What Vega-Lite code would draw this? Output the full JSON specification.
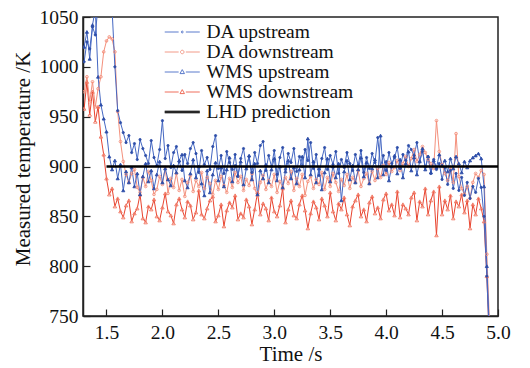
{
"$schema": "https://vega.github.io/schema/vega-lite/v6.json",
"width": 415, "height": 299,
"autosize": {"type": "none"},
"padding": {"left": 83, "top": 17, "right": 32, "bottom": 52},
"background": "white",
"config": {
  "view": {"stroke": "#222", "strokeWidth": 1.5},
  "font": "Liberation Serif",
  "axis": {"grid": false, "domainColor": "#222", "domainWidth": 1.5, "tickColor": "#222", "tickWidth": 1.2,
    "labelFont": "Liberation Serif", "labelFontSize": 19.5, "labelColor": "#111",
    "titleFont": "Liberation Serif", "titleFontSize": 21, "titleFontWeight": "normal", "titleColor": "#111"}
},
"datasets": {"main": [
{"t":1.3,"a":1005,"b":975,"c":1020,"d":958},
{"t":1.325,"a":1025,"b":990,"c":1035,"d":985},
{"t":1.35,"a":1018,"b":965,"c":1008,"d":952},
{"t":1.375,"a":1040,"b":985,"c":1042,"d":975},
{"t":1.4,"a":1032,"b":960,"c":1058,"d":945},
{"t":1.425,"a":1062,"b":978,"c":990,"d":960},
{"t":1.45,"a":1068,"b":990,"c":962,"d":930},
{"t":1.475,"a":1060,"b":1015,"c":948,"d":912},
{"t":1.5,"a":1072,"b":1026,"c":935,"d":888},
{"t":1.525,"a":1064,"b":1030,"c":910,"d":872},
{"t":1.55,"a":1058,"b":1028,"c":897,"d":878},
{"t":1.575,"a":1000,"b":1015,"c":906,"d":860},
{"t":1.6,"a":956,"b":955,"c":888,"d":868},
{"t":1.625,"a":944,"b":925,"c":902,"d":855},
{"t":1.65,"a":934,"b":905,"c":876,"d":849},
{"t":1.675,"a":924,"b":892,"c":895,"d":861},
{"t":1.7,"a":931,"b":884,"c":884,"d":866},
{"t":1.725,"a":914,"b":893,"c":899,"d":845},
{"t":1.75,"a":923,"b":897,"c":880,"d":853},
{"t":1.775,"a":907,"b":879,"c":893,"d":858},
{"t":1.8,"a":927,"b":874,"c":872,"d":872},
{"t":1.825,"a":918,"b":889,"c":890,"d":848},
{"t":1.85,"a":911,"b":880,"c":903,"d":844},
{"t":1.875,"a":903,"b":895,"c":885,"d":860},
{"t":1.9,"a":926,"b":886,"c":896,"d":857},
{"t":1.925,"a":909,"b":872,"c":878,"d":867},
{"t":1.95,"a":901,"b":877,"c":892,"d":850},
{"t":1.975,"a":917,"b":890,"c":905,"d":846},
{"t":2.0,"a":946,"b":882,"c":884,"d":859},
{"t":2.025,"a":908,"b":899,"c":898,"d":873},
{"t":2.05,"a":921,"b":873,"c":887,"d":855},
{"t":2.075,"a":899,"b":888,"c":881,"d":851},
{"t":2.1,"a":914,"b":879,"c":901,"d":843},
{"t":2.125,"a":920,"b":893,"c":894,"d":862},
{"t":2.15,"a":905,"b":876,"c":906,"d":868},
{"t":2.175,"a":896,"b":887,"c":912,"d":857},
{"t":2.2,"a":912,"b":870,"c":886,"d":849},
{"t":2.225,"a":903,"b":884,"c":879,"d":865},
{"t":2.25,"a":918,"b":891,"c":893,"d":861},
{"t":2.275,"a":924,"b":875,"c":907,"d":847},
{"t":2.3,"a":913,"b":886,"c":889,"d":854},
{"t":2.325,"a":894,"b":880,"c":900,"d":876},
{"t":2.35,"a":916,"b":894,"c":883,"d":852},
{"t":2.375,"a":902,"b":878,"c":871,"d":848},
{"t":2.4,"a":909,"b":889,"c":896,"d":858},
{"t":2.425,"a":897,"b":883,"c":874,"d":866},
{"t":2.45,"a":920,"b":872,"c":892,"d":870},
{"t":2.475,"a":931,"b":886,"c":904,"d":845},
{"t":2.5,"a":898,"b":877,"c":886,"d":851},
{"t":2.525,"a":911,"b":890,"c":899,"d":862},
{"t":2.55,"a":893,"b":881,"c":880,"d":840},
{"t":2.575,"a":915,"b":874,"c":897,"d":856},
{"t":2.6,"a":904,"b":888,"c":909,"d":864},
{"t":2.625,"a":897,"b":879,"c":885,"d":859},
{"t":2.65,"a":912,"b":894,"c":901,"d":871},
{"t":2.675,"a":890,"b":884,"c":891,"d":847},
{"t":2.7,"a":908,"b":890,"c":905,"d":853},
{"t":2.725,"a":918,"b":876,"c":882,"d":849},
{"t":2.75,"a":899,"b":887,"c":898,"d":867},
{"t":2.775,"a":910,"b":881,"c":911,"d":860},
{"t":2.8,"a":894,"b":893,"c":887,"d":842},
{"t":2.825,"a":914,"b":878,"c":903,"d":857},
{"t":2.85,"a":903,"b":870,"c":872,"d":874},
{"t":2.875,"a":921,"b":884,"c":896,"d":852},
{"t":2.9,"a":925,"b":891,"c":888,"d":863},
{"t":2.925,"a":896,"b":877,"c":902,"d":858},
{"t":2.95,"a":911,"b":886,"c":884,"d":846},
{"t":2.975,"a":900,"b":880,"c":897,"d":869},
{"t":3.0,"a":916,"b":892,"c":908,"d":855},
{"t":3.025,"a":892,"b":874,"c":886,"d":850},
{"t":3.05,"a":909,"b":885,"c":900,"d":861},
{"t":3.075,"a":919,"b":879,"c":879,"d":878},
{"t":3.1,"a":897,"b":889,"c":895,"d":844},
{"t":3.125,"a":913,"b":883,"c":906,"d":857},
{"t":3.15,"a":904,"b":895,"c":888,"d":866},
{"t":3.175,"a":918,"b":876,"c":899,"d":851},
{"t":3.2,"a":895,"b":888,"c":883,"d":848},
{"t":3.225,"a":910,"b":880,"c":897,"d":862},
{"t":3.25,"a":900,"b":892,"c":910,"d":871},
{"t":3.275,"a":917,"b":871,"c":889,"d":856},
{"t":3.3,"a":906,"b":885,"c":928,"d":838},
{"t":3.325,"a":924,"b":890,"c":892,"d":853},
{"t":3.35,"a":898,"b":878,"c":905,"d":865},
{"t":3.375,"a":912,"b":887,"c":884,"d":859},
{"t":3.4,"a":891,"b":882,"c":898,"d":847},
{"t":3.425,"a":908,"b":894,"c":877,"d":868},
{"t":3.45,"a":919,"b":877,"c":894,"d":861},
{"t":3.475,"a":897,"b":889,"c":908,"d":850},
{"t":3.5,"a":911,"b":880,"c":885,"d":874},
{"t":3.525,"a":902,"b":893,"c":900,"d":855},
{"t":3.55,"a":915,"b":884,"c":889,"d":846},
{"t":3.575,"a":893,"b":875,"c":903,"d":863},
{"t":3.6,"a":907,"b":887,"c":866,"d":857},
{"t":3.625,"a":899,"b":881,"c":895,"d":869},
{"t":3.65,"a":914,"b":892,"c":906,"d":852},
{"t":3.675,"a":903,"b":878,"c":887,"d":841},
{"t":3.7,"a":896,"b":889,"c":901,"d":860},
{"t":3.725,"a":912,"b":884,"c":884,"d":866},
{"t":3.75,"a":901,"b":896,"c":897,"d":872},
{"t":3.775,"a":916,"b":880,"c":909,"d":850},
{"t":3.8,"a":894,"b":888,"c":890,"d":857},
{"t":3.825,"a":909,"b":893,"c":904,"d":845},
{"t":3.85,"a":898,"b":883,"c":883,"d":864},
{"t":3.875,"a":913,"b":895,"c":898,"d":870},
{"t":3.9,"a":904,"b":886,"c":907,"d":853},
{"t":3.925,"a":929,"b":898,"c":889,"d":859},
{"t":3.95,"a":900,"b":889,"c":931,"d":848},
{"t":3.975,"a":911,"b":901,"c":892,"d":867},
{"t":4.0,"a":896,"b":892,"c":905,"d":873},
{"t":4.025,"a":914,"b":904,"c":886,"d":856},
{"t":4.05,"a":903,"b":895,"c":900,"d":862},
{"t":4.075,"a":909,"b":899,"c":911,"d":851},
{"t":4.1,"a":919,"b":906,"c":893,"d":875},
{"t":4.125,"a":898,"b":896,"c":907,"d":849},
{"t":4.15,"a":912,"b":903,"c":889,"d":862},
{"t":4.175,"a":906,"b":910,"c":903,"d":858},
{"t":4.2,"a":921,"b":900,"c":915,"d":852},
{"t":4.225,"a":917,"b":908,"c":896,"d":869},
{"t":4.25,"a":911,"b":917,"c":909,"d":874},
{"t":4.275,"a":924,"b":905,"c":892,"d":846},
{"t":4.3,"a":905,"b":912,"c":905,"d":865},
{"t":4.325,"a":915,"b":920,"c":918,"d":860},
{"t":4.35,"a":899,"b":914,"c":897,"d":878},
{"t":4.375,"a":910,"b":907,"c":910,"d":852},
{"t":4.4,"a":893,"b":903,"c":894,"d":866},
{"t":4.425,"a":907,"b":898,"c":906,"d":875},
{"t":4.45,"a":897,"b":946,"c":899,"d":831},
{"t":4.475,"a":903,"b":915,"c":912,"d":880},
{"t":4.5,"a":887,"b":902,"c":901,"d":852},
{"t":4.525,"a":899,"b":893,"c":906,"d":866},
{"t":4.55,"a":882,"b":886,"c":895,"d":857},
{"t":4.575,"a":896,"b":899,"c":908,"d":871},
{"t":4.6,"a":878,"b":884,"c":898,"d":848},
{"t":4.625,"a":893,"b":933,"c":910,"d":865},
{"t":4.65,"a":876,"b":890,"c":903,"d":860},
{"t":4.675,"a":889,"b":878,"c":894,"d":872},
{"t":4.7,"a":871,"b":872,"c":905,"d":854},
{"t":4.725,"a":884,"b":880,"c":899,"d":866},
{"t":4.75,"a":868,"b":868,"c":906,"d":838},
{"t":4.775,"a":880,"b":884,"c":909,"d":862},
{"t":4.8,"a":874,"b":893,"c":911,"d":852},
{"t":4.825,"a":888,"b":889,"c":913,"d":868},
{"t":4.85,"a":879,"b":896,"c":908,"d":858},
{"t":4.875,"a":850,"b":892,"c":880,"d":845},
{"t":4.9,"a":790,"b":812,"c":800,"d":790},
{"t":4.925,"a":720,"b":740,"c":730,"d":720}
]},
"layer": [
  {
    "data": {"name": "main"},
    "transform": [{"fold": ["d", "b", "c", "a"], "as": ["s", "v"]}],
    "mark": {"type": "line", "clip": true, "strokeWidth": 1},
    "encoding": {
      "x": {"field": "t", "type": "quantitative", "scale": {"domain": [1.29, 5.0], "nice": false, "zero": false},
        "axis": {"title": "Time /s", "values": [1.5,1.75,2,2.25,2.5,2.75,3,3.25,3.5,3.75,4,4.25,4.5,4.75,5],
          "labelExpr": "(datum.value*2)%1==0 ? format(datum.value,'.1f') : ''",
          "tickSize": {"condition": {"test": "(datum.value*2)%1==0", "value": -7}, "value": -4},
          "labelPadding": 14, "titlePadding": 2, "labelFlush": false, "labelOverlap": false}},
      "y": {"field": "v", "type": "quantitative", "scale": {"domain": [750, 1050], "nice": false, "zero": false},
        "axis": {"title": "Measured temperature /K", "values": [750,775,800,825,850,875,900,925,950,975,1000,1025,1050],
          "labelExpr": "datum.value%50==0 ? format(datum.value,'d') : ''",
          "tickSize": {"condition": {"test": "datum.value%50==0", "value": -7}, "value": -4},
          "labelPadding": 12, "titlePadding": 6, "titleY": 141.5, "labelFlush": false, "labelOverlap": false}},
      "color": {"field": "s", "type": "nominal", "scale": {"domain": ["a", "b", "c", "d"], "range": ["#4467c2", "#f4907c", "#4467c2", "#e8432e"]}, "legend": null}
    }
  },
  {
    "data": {"name": "main"},
    "transform": [{"fold": ["d", "b", "c", "a"], "as": ["s", "v"]}],
    "mark": {"type": "point", "clip": true, "strokeWidth": 0.9, "opacity": 1},
    "encoding": {
      "x": {"field": "t", "type": "quantitative", "scale": {"domain": [1.29, 5.0], "nice": false, "zero": false}},
      "y": {"field": "v", "type": "quantitative", "scale": {"domain": [750, 1050], "nice": false, "zero": false}},
      "shape": {"field": "s", "type": "nominal", "scale": {"domain": ["a", "b", "c", "d"], "range": ["circle", "circle", "triangle-up", "triangle-up"]}, "legend": null},
      "stroke": {"field": "s", "type": "nominal", "scale": {"domain": ["a", "b", "c", "d"], "range": ["#2c4da8", "#f4907c", "#2c4da8", "#f07560"]}, "legend": null},
      "fill": {"field": "s", "type": "nominal", "scale": {"domain": ["a", "b", "c", "d"], "range": ["#2c4da8", "transparent", "#2c4da8", "transparent"]}, "legend": null},
      "size": {"field": "s", "type": "ordinal", "scale": {"domain": ["a", "b", "c", "d"], "range": [5, 12, 12, 12]}, "legend": null}
    }
  },
  {
    "data": {"values": [{"t": 1.5, "v": 900}, {"t": 5.0, "v": 900}]},
    "mark": {"type": "line", "color": "black", "strokeWidth": 2.6, "clip": true},
    "encoding": {
      "x": {"field": "t", "type": "quantitative", "scale": {"domain": [1.29, 5.0], "nice": false, "zero": false}},
      "y": {"field": "v", "type": "quantitative", "scale": {"domain": [750, 1050], "nice": false, "zero": false}}
    }
  },
  {
    "data": {"values": [{"n": "DA upstream"}, {"n": "DA downstream"}, {"n": "WMS upstream"}, {"n": "WMS downstream"}, {"n": "LHD prediction"}]},
    "mark": {"type": "point", "filled": false, "opacity": 0, "strokeWidth": 1},
    "encoding": {
      "shape": {"field": "n", "type": "nominal",
        "scale": {"domain": ["DA upstream", "DA downstream", "WMS upstream", "WMS downstream", "LHD prediction"],
          "range": [
            "M-2.19,0H-0.45M0.45,0H2.19M0.12,0A0.12,0.12 0 1,1 -0.12,0A0.12,0.12 0 1,1 0.12,0",
            "M-2.19,0H-0.45M0.45,0H2.19M0.22,0A0.22,0.22 0 1,1 -0.22,0A0.22,0.22 0 1,1 0.22,0",
            "M-2.19,0H-0.45M0.45,0H2.19M0,-0.3L0.28,0.2L-0.28,0.2Z",
            "M-2.19,0H-0.45M0.45,0H2.19M0,-0.3L0.28,0.2L-0.28,0.2Z",
            "M-2.19,-0.1H2.19M-2.19,0H2.19M-2.19,0.1H2.19"]},
        "legend": {"orient": "none", "legendX": 89.5, "legendY": 5.25, "title": null, "padding": 0,
          "labelFont": "Liberation Serif", "labelFontSize": 19.5, "labelColor": "#111", "labelOffset": 14.5,
          "symbolSize": 256, "symbolStrokeWidth": 1, "symbolOpacity": 1, "rowPadding": -2, "symbolFillColor": "transparent"}},
      "color": {"field": "n", "type": "nominal",
        "scale": {"domain": ["DA upstream", "DA downstream", "WMS upstream", "WMS downstream", "LHD prediction"],
          "range": ["#5b7bcc", "#f29a88", "#5b7bcc", "#ef6f5c", "#000000"]},
        "legend": {"orient": "none", "legendX": 89.5, "legendY": 5.25, "title": null, "padding": 0,
          "labelFont": "Liberation Serif", "labelFontSize": 19.5, "labelColor": "#111", "labelOffset": 14.5,
          "symbolSize": 256, "symbolStrokeWidth": 1, "symbolOpacity": 1, "rowPadding": -2, "symbolFillColor": "transparent"}}
    }
  }
],
"resolve": {"scale": {"color": "independent", "shape": "independent"}}
}
